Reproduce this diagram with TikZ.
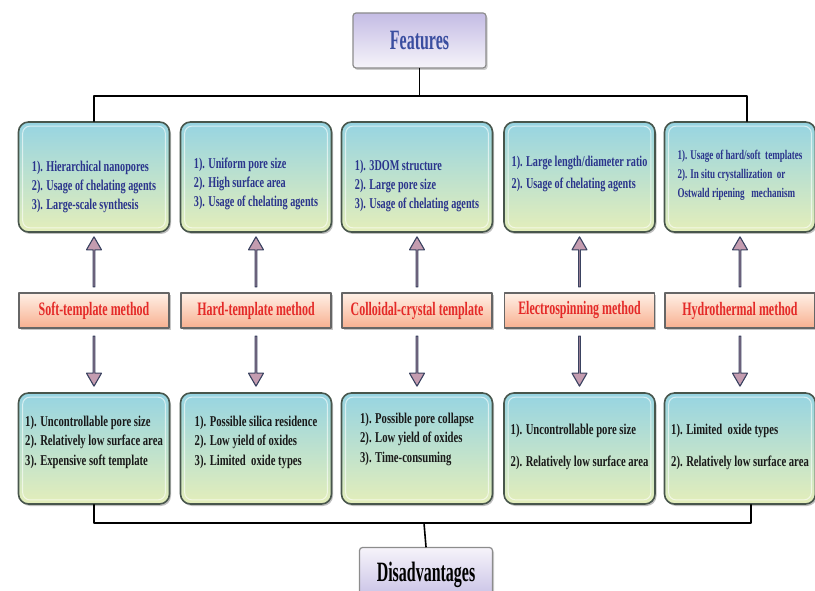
\documentclass[tikz,border=0pt]{standalone}
\usepackage{fontspec}
\setmainfont{Liberation Serif}[FakeStretch=0.68]
\newfontfamily\dragfont{Liberation Serif}[FakeStretch=0.71]
\newfontfamily\methfont{Liberation Serif}[FakeStretch=0.63]
\newfontfamily\titlefont{Liberation Serif}[FakeStretch=0.57]
\usetikzlibrary{calc,shadows,shapes.arrows}

\definecolor{cyantop}{RGB}{150,212,226}
\definecolor{greenbot}{RGB}{228,238,186}
\definecolor{boxline}{RGB}{72,86,76}
\definecolor{featblue}{RGB}{42,52,140}
\definecolor{titleblue}{RGB}{58,78,160}
\definecolor{methred}{RGB}{228,42,40}
\definecolor{peachtop}{RGB}{255,240,230}
\definecolor{peachbot}{RGB}{248,176,144}
\definecolor{lavtop}{RGB}{196,188,228}
\definecolor{lavbot}{RGB}{246,244,250}
\definecolor{arrowfill}{RGB}{196,156,176}
\definecolor{arrowline}{RGB}{58,66,96}

\begin{document}
\begin{tikzpicture}[x=1pt,y=-1pt,line cap=round,line join=round,
    featbox/.style={draw=boxline,line width=1.6pt,rounded corners=10pt,
      top color=cyantop,bottom color=greenbot,minimum width=151pt,minimum height=110pt,
      drop shadow={shadow xshift=1.5pt,shadow yshift=-2pt,opacity=0.5}},
    feattext/.style={align=left,inner sep=0pt,text=featblue,
      font=\bfseries\fontsize{\fs}{19}\selectfont},
    dragtext/.style={align=left,inner sep=0pt,text=black!90,
      font=\dragfont\bfseries\fontsize{15}{19.5}\selectfont},
    hilite/.style={draw=white,opacity=0.6,line width=1pt,rounded corners=7pt},
    methbox/.style={draw=black!60,line width=1.2pt,top color=peachtop,bottom color=peachbot,
      minimum width=150pt,minimum height=35pt,
      drop shadow={shadow xshift=1.5pt,shadow yshift=-2pt,opacity=0.45},
      text=methred,font=\methfont\bfseries\fontsize{19}{20}\selectfont},
    titlebox/.style={draw=black!45,line width=1.2pt,rounded corners=3pt,
      minimum width=133pt,minimum height=55pt,
      drop shadow={shadow xshift=1.5pt,shadow yshift=-2pt,opacity=0.4},
      font=\titlefont\bfseries\fontsize{28}{30}\selectfont},
    arrowbody/.style={single arrow,draw=arrowline,fill=arrowfill,line width=1.1pt,
      minimum height=50pt,minimum width=15pt,single arrow head extend=4pt,
      single arrow tip angle=60,inner sep=0pt},
    uparrow/.style={arrowbody,rotate=90},
    downarrow/.style={arrowbody,rotate=-90},
    bracket/.style={line width=1.6pt,black}]

    \useasboundingbox (0,0) rectangle (815,591);
    \clip (0,0) rectangle (815,591);

    % headings
    \node[titlebox,top color=lavtop,bottom color=lavbot,text=titleblue] (feat) at (419.5,40.5) {Features};
    \node[titlebox,top color=lavbot,bottom color=lavtop,text=black] (dis) at (426,575) {Disadvantages};

    % one column per method
    \foreach \i/\cx/\fs/\fy/\dy/\ftxt/\mtxt/\dtxt in {
      1/94/15/187/442/{1). Hierarchical nanopores\\2). Usage of chelating agents\\3). Large-scale synthesis}/{Soft-template method}/{1). Uncontrollable pore size\\2). Relatively low surface area\\3). Expensive soft template},
      2/256/15/184/442/{1). Uniform pore size\\2). High surface area\\3). Usage of chelating agents}/{Hard-template method}/{1). Possible silica residence\\2). Low yield of oxides\\3). Limited\ \ oxide types},
      3/417/15/186/439/{1). 3DOM structure\\2). Large pore size\\3). Usage of chelating agents}/{Colloidal-crystal template}/{1). Possible pore collapse\\2). Low yield of oxides\\3). Time-consuming},
      4/579.5/15/174/447/{1). Large length/diameter ratio\\[3pt]2). Usage of chelating agents}/{Electrospinning method}/{1). Uncontrollable pore size\\[12pt]2). Relatively low surface area},
      5/740/13.3/175/447/{1). Usage of hard/soft\ \ templates\\2). In situ crystallization\ \ or\\Ostwald ripening\ \ \ mechanism}/{Hydrothermal method}/{1). Limited\ \ oxide types\\[12pt]2). Relatively low surface area}}
    {
      \node[featbox] (f\i) at (\cx,177) {};
      \node[feattext] (ft\i) at (\cx,\fy) {\ftxt};
      \node[methbox] (m\i) at (\cx,310.5) {\mtxt};
      \node[featbox,minimum height=111pt] (d\i) at (\cx,448.5) {};
      \node[dragtext] (dt\i) at (\cx,\dy) {\dtxt};
      \draw[hilite] ([shift={(5,5)}]f\i.north west) rectangle ([shift={(-5,-5)}]f\i.south east);
      \draw[hilite] ([shift={(5,5)}]d\i.north west) rectangle ([shift={(-5,-5)}]d\i.south east);
      \node[uparrow] (ua\i) at ($(m\i.north)!0.5!(f\i.south)$) {};
      \node[downarrow] (da\i) at ($(m\i.south)!0.5!(d\i.north)$) {};
    }

    % brackets
    \coordinate (tb) at (419.5,96);
    \coordinate (bb) at (424,523);
    \draw[bracket] (f1.north) |- (tb) -| ([xshift=7pt]f5.north);
    \draw[bracket] (feat.south) -- (tb);
    \draw[bracket] (d1.south) |- (bb) -| ([xshift=11pt]d5.south);
    \draw[bracket] (bb) -- (dis.north);
\end{tikzpicture}
\end{document}
